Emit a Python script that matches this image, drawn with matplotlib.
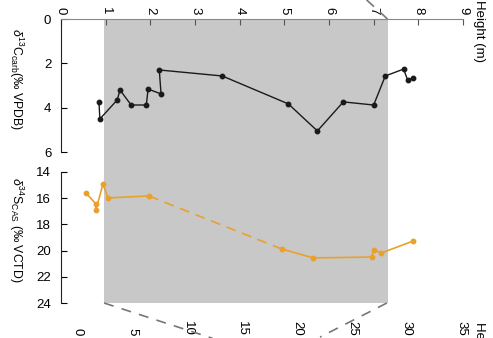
import numpy as np
import matplotlib.pyplot as plt
from matplotlib.patches import Rectangle
from matplotlib.transforms import blended_transform_factory

plt.rcParams['font.family'] = ['Liberation Sans', 'DejaVu Sans']
plt.rcParams['mathtext.fontset'] = 'custom'
plt.rcParams['mathtext.rm'] = 'Liberation Sans'
plt.rcParams['mathtext.it'] = 'Liberation Sans:italic'

# carbon isotope section (height in m, top scale)
c_height = [0.85, 0.87, 1.26, 1.32, 1.57, 1.91, 1.95, 2.24, 2.20, 3.61,
            5.09, 5.74, 6.32, 7.00, 7.26, 7.67, 7.76, 7.89]
c_d13c = [3.74, 4.51, 3.65, 3.20, 3.88, 3.88, 3.16, 3.38, 2.30, 2.57,
          3.83, 5.05, 3.74, 3.88, 2.57, 2.26, 2.75, 2.66]

# sulfur isotope section (height in m, bottom scale)
s_height_a = [0.73, 1.64, 1.64, 2.28, 2.74, 6.48]
s_d34s_a = [15.6, 16.44, 16.9, 14.92, 15.98, 15.83]
s_height_b = [18.6, 21.5, 26.8, 27.0, 27.7, 30.6]
s_d34s_b = [19.88, 20.56, 20.49, 19.95, 20.18, 19.27]

# shaded interval (top-section heights)
shade = (0.96, 7.31)
top_ticks = list(range(0, 10))
bot_ticks = list(range(0, 40, 5))

orange = '#E9A12E'
W, H = 493, 338
fig = plt.figure(figsize=(W / 100, H / 100), dpi=100)

def ax_rect(l, t, r, b):
    return [l / W, 1 - b / H, (r - l) / W, (b - t) / H]

ax1 = fig.add_axes(ax_rect(61, 19, 463, 152))
ax2 = fig.add_axes(ax_rect(61, 172, 463, 303))
for ax in (ax1, ax2):
    ax.set_facecolor('none')
    for s in ('right', 'bottom', 'top'):
        ax.spines[s].set_visible(False)
    ax.spines['left'].set_color('#222222')
    ax.tick_params(axis='y', direction='in', length=4, pad=7, labelsize=9.5)

# top panel
ax1.plot(c_height, c_d13c, color='#1a1a1a', lw=1.0, marker='o', ms=3.2)
ax1.set_xlim(0, 9)
ax1.set_ylim(6, 0)
ax1.set_yticks([0, 2, 4, 6])
ax1.spines['top'].set_visible(True)
ax1.spines['top'].set_color('#888888')
ax1.xaxis.tick_top()
ax1.set_xticks(top_ticks)
ax1.tick_params(axis='x', direction='in', length=4, pad=3, labelsize=9.5,
                labelrotation=270, color='#555555')
ax1.set_ylabel(r'$\delta^{13}$C$_{\mathrm{carb}}$(‰ VPDB)', fontsize=8.8,
               rotation=270)
ax1.yaxis.set_label_coords(-0.135, 0.55)

# bottom panel
ax2.plot(s_height_a, s_d34s_a, color=orange, lw=1.2, marker='o', ms=3.2)
ax2.plot(s_height_b, s_d34s_b, color=orange, lw=1.2, marker='o', ms=3.2)
ax2.plot([s_height_a[-1], s_height_b[0]], [s_d34s_a[-1], s_d34s_b[0]],
         color=orange, lw=1.2, ls=(0, (6, 4)))
ax2.set_xlim(-1.55, 35.15)
ax2.set_ylim(24, 14)
ax2.set_yticks([14, 16, 18, 20, 22, 24])
ax2.set_xticks(bot_ticks)
ax2.tick_params(axis='x', length=0, pad=23.5, labelsize=9.5, labelrotation=270)
for lab in ax2.get_xticklabels():
    lab.set_va('bottom')
ax2.set_ylabel(r'$\delta^{34}$S$_{\mathrm{CAS}}$ (‰ VCTD)', fontsize=8.8,
               rotation=270)
ax2.yaxis.set_label_coords(-0.135, 0.56)

# grey shaded interval across both panels
tr = blended_transform_factory(ax1.transData, fig.transFigure)
fig.add_artist(Rectangle((shade[0], 1 - 303 / H), shade[1] - shade[0],
                         (303 - 19) / H, transform=tr, color='#C8C8C8',
                         zorder=-1, lw=0))

# correlation lines to neighbouring sections
dash = dict(color='#777777', lw=1.2, ls=(0, (6, 5)), clip_on=False)
ax1.plot([shade[1], 6.82], [0, -0.9], **dash)
ax2.plot([2.38, 12.3], [24, 26.7], **dash)
ax2.plot([28.2, 22.1], [24, 26.6], **dash)

fig.text(479 / W, 1, 'Height (m)', rotation=270, ha='center',
         va='top', fontsize=9.5)
fig.text(479 / W, 1 - 322 / H, 'Height (m)', rotation=270, ha='center',
         va='top', fontsize=9.5)

fig.savefig('out.png', dpi=100)
